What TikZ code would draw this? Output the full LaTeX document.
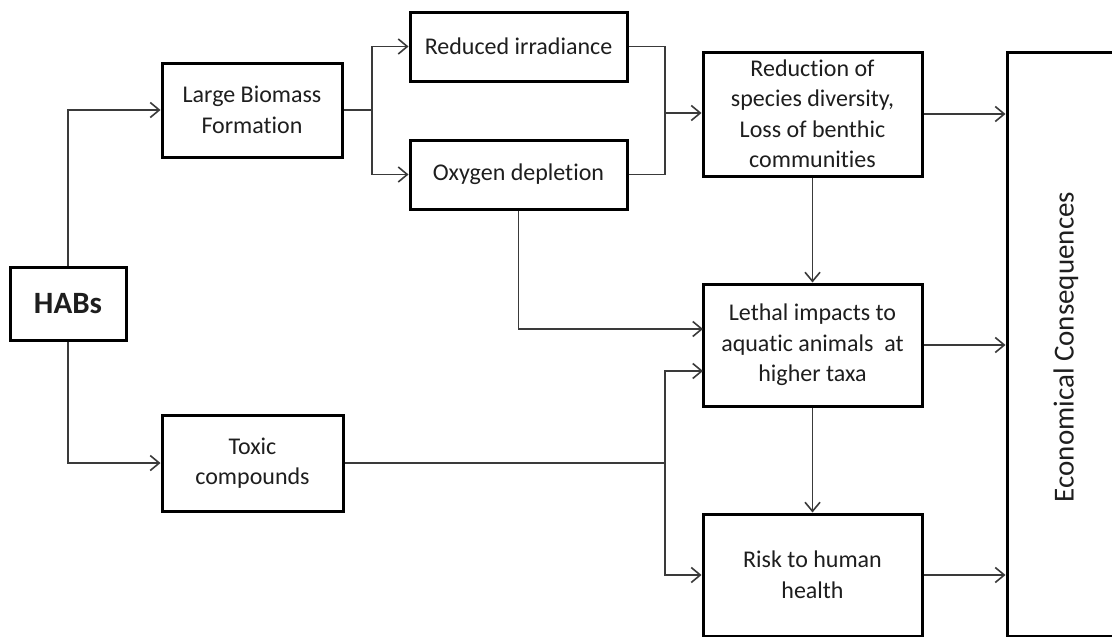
\documentclass[tikz,border=0pt]{standalone}
\usepackage{fontspec}
\setmainfont{Carlito}[Ligatures={CommonOff,RequiredOff,ContextualOff,RareOff},Contextuals=AlternateOff]
\usetikzlibrary{arrows.meta}
\definecolor{linec}{HTML}{3A3A3A}
\definecolor{txtc}{HTML}{1E1E1E}
\tikzset{
  box/.style={draw=black, line width=3pt, align=center, inner sep=0pt, text=txtc,
    font=\fontsize{24}{30.5}\selectfont},
  conn/.style={draw=linec, line width=1.6pt},
  arr/.style={conn, -{Straight Barb[length=9pt,width=15pt,line width=1.6pt]}}
}
\begin{document}
\begin{tikzpicture}[x=1pt,y=-1pt]
\clip (0,0) rectangle (1112,637);
\fill[white] (0,0) rectangle (1112,637);
% nodes
\node[box, minimum width=116pt, minimum height=73pt, font=\fontsize{31}{36}\selectfont\bfseries] (habs) at (68,303.5) {HABs};
\node[box, minimum width=180pt, minimum height=94pt] (large) at (252,110) {Large Biomass\\Formation};
\node[box, minimum width=181pt, minimum height=96pt] (toxic) at (252.5,463) {Toxic\\compounds};
\node[box, minimum width=217pt, minimum height=69pt] (red) at (518.5,46.5) {Reduced irradiance};
\node[box, minimum width=217pt, minimum height=69pt] (oxy) at (518.5,174.5) {Oxygen depletion};
\node[box, minimum width=219pt, minimum height=124pt] (redu) at (812.5,114) {Reduction of\\species diversity,\\Loss of benthic\\communities};
\node[box, minimum width=219pt, minimum height=122pt] (leth) at (812.5,345) {Lethal impacts to\\aquatic animals~ at\\higher taxa};
\node[box, minimum width=219pt, minimum height=122pt] (risk) at (812.5,575) {Risk to human\\health};
\node[box, minimum width=120pt, minimum height=584pt] (econ) at (1067,344) {};
\node[rotate=90, text=txtc, inner sep=0pt, font=\fontsize{29}{34}\selectfont] (econt) at (1066,347) {Economical Consequences};
% junction coordinates
\coordinate (j1) at (372,110);
\coordinate (j2) at (665,113);
\coordinate (j3) at (665,463);
\coordinate (l1) at (703,329);
\coordinate (l2) at (703,371);
% connectors
\draw[arr] (habs.north) |- (large.west);
\draw[arr] (habs.south) |- (toxic.west);
\draw[conn] (large.east) -- (j1);
\draw[arr] (j1) |- (red.west);
\draw[arr] (j1) |- (oxy.west);
\draw[conn] (red.east) -| (j2);
\draw[conn] (oxy.east) -| (j2);
\draw[arr] (j2) -- (j2 -| redu.west);
\draw[arr] (redu.south) -- (leth.north);
\draw[arr] (oxy.south) |- (l1);
\draw[conn] (toxic.east) -- (j3);
\draw[arr] (j3) |- (l2);
\draw[arr] (j3) |- (risk.west);
\draw[arr] (leth.south) -- (risk.north);
\draw[arr] (redu.east) -- (redu.east -| econ.west);
\draw[arr] (leth.east) -- (leth.east -| econ.west);
\draw[arr] (risk.east) -- (risk.east -| econ.west);
\end{tikzpicture}
\end{document}
